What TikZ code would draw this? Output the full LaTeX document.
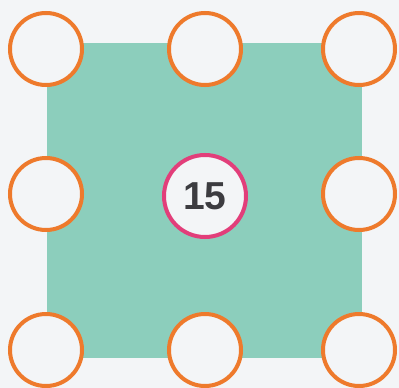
\documentclass[tikz,border=0pt]{standalone}
\usepackage{fontspec}
\setsansfont{Liberation Sans}
\definecolor{pagegrey}{RGB}{243,245,247}
\definecolor{tealfill}{RGB}{140,206,188}
\definecolor{ringorange}{RGB}{238,122,44}
\definecolor{ringpink}{RGB}{226,62,122}
\definecolor{numgrey}{RGB}{60,60,64}
\usetikzlibrary{positioning}

\begin{document}
\begin{tikzpicture}[x=1pt,y=-1pt,
    ring/.style={circle,draw=ringorange,line width=4pt,fill=pagegrey,minimum size=72pt,inner sep=0pt},
    centre/.style={circle,draw=ringpink,line width=4pt,fill=pagegrey,minimum size=82pt,inner sep=0pt,
        font=\sffamily\bfseries\fontsize{39}{39}\selectfont,text=numgrey}]
    % page
    \fill[pagegrey] (0,0) rectangle (399,388);
    \useasboundingbox (0,0) rectangle (399,388);

    % square
    \fill[tealfill] (47,43) rectangle (362,358);

    % top row
    \node[ring] (tl) at (46,49) {};
    \node[ring] (tm) at (205,49) {};
    \node[ring] (tr) at (359,49) {};

    % middle row
    \node[ring] (ml) at (46,194) {};
    \node[ring] (mr) at (359,194) {};

    % bottom row
    \node[ring] (bl) at (46,350) {};
    \node[ring] (bm) at (205,350) {};
    \node[ring] (br) at (359,350) {};

    % centre number
    \node[centre] (sum) at (205,196) {15};
\end{tikzpicture}
\end{document}
